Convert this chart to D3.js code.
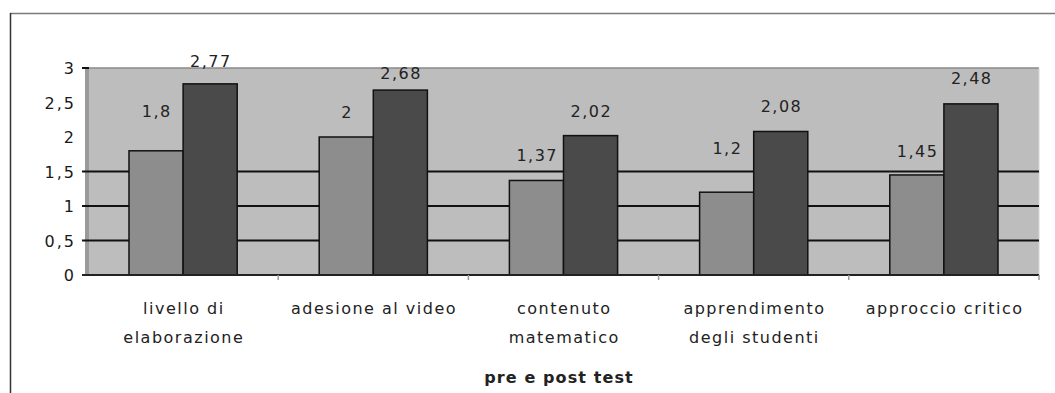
<!DOCTYPE html>
<html>
<head>
<meta charset="utf-8">
<script src="https://cdn.jsdelivr.net/npm/d3@7"></script>
<style>
  html, body { margin: 0; padding: 0; background: #fff; }
  svg { display: block; font-family: "DejaVu Sans", Arial, sans-serif; }
</style>
</head>
<body>
<svg id="chart" width="1055" height="393"></svg>
<script>
// Category labels (line breaks as shown under the axis)
const categories = [
  ["livello di", "elaborazione"],
  ["adesione al video"],
  ["contenuto", "matematico"],
  ["apprendimento", "degli studenti"],
  ["approccio critico"]
];
const seriesNames = ["pre", "post"];
const preValues  = [1.8, 2, 1.37, 1.2, 1.45];
const postValues = [2.77, 2.68, 2.02, 2.08, 2.48];
const yTicks = [0, 0.5, 1, 1.5, 2, 2.5, 3];
const gridValues = [0.5, 1, 1.5];
const axisTitle = "pre e post test";

// Label placement: pixels above each bar top [pre, post]
const labelLift = [[34, 17], [19, 11], [19, 19], [38, 19], [18, 20]];

const fmt = v => String(v).replace(".", ",");

const svg = d3.select("#chart");
const plot = { left: 88, right: 1039, top: 68, bottom: 275 };

// outer frame (top and left edges)
svg.append("line").attr("x1", 10).attr("x2", 1055).attr("y1", 13.5).attr("y2", 13.5)
  .attr("stroke", "#7a7a7a").attr("stroke-width", 1.5);
svg.append("line").attr("x1", 10.5).attr("x2", 10.5).attr("y1", 13).attr("y2", 393)
  .attr("stroke", "#333").attr("stroke-width", 1.5);

const keys = categories.map((c, i) => i);
const x0 = d3.scaleBand().domain(keys).range([plot.left, plot.right]).padding(0);
const x1 = d3.scaleBand().domain(seriesNames).range([41, x0.bandwidth() - 41]).padding(0);
const y = d3.scaleLinear().domain([0, 3]).range([plot.bottom, plot.top]);

// plot area background
svg.append("rect")
  .attr("x", plot.left).attr("y", plot.top)
  .attr("width", plot.right - plot.left).attr("height", plot.bottom - plot.top)
  .attr("fill", "#bdbdbd");
svg.append("line").attr("x1", plot.left).attr("x2", plot.right)
  .attr("y1", plot.top).attr("y2", plot.top)
  .attr("stroke", "#8a8a8a").attr("stroke-width", 1.5);
svg.append("line").attr("x1", plot.right).attr("x2", plot.right)
  .attr("y1", plot.top).attr("y2", plot.bottom)
  .attr("stroke", "#d4d4d4").attr("stroke-width", 1);
// left wall
svg.append("rect").attr("x", 85).attr("y", plot.top).attr("width", 4)
  .attr("height", plot.bottom - plot.top).attr("fill", "#9a9a9a");

// gridlines (with tick stubs left of the wall)
svg.append("g").selectAll("line").data(gridValues).join("line")
  .attr("x1", 82).attr("x2", plot.right)
  .attr("y1", d => y(d)).attr("y2", d => y(d))
  .attr("stroke", "#111").attr("stroke-width", 2);

// y axis labels
const yAxis = d3.axisLeft(y).tickValues(yTicks).tickFormat(fmt).tickSize(0).tickPadding(0);
const gy = svg.append("g").attr("transform", `translate(${plot.left},0)`).call(yAxis);
gy.select(".domain").remove();
gy.selectAll("text")
  .attr("x", -12)
  .attr("dy", "0.36em")
  .attr("font-size", 16)
  .attr("letter-spacing", 2)
  .attr("font-family", "DejaVu Sans, Arial, sans-serif")
  .attr("fill", "#1a1a1a");
// tick stubs at 0 and 3
svg.append("g").selectAll("line").data([0, 3]).join("line")
  .attr("x1", 82).attr("x2", 89)
  .attr("y1", d => y(d)).attr("y2", d => y(d))
  .attr("stroke", "#111").attr("stroke-width", 2);

// bars
const groups = svg.append("g").selectAll("g").data(keys).join("g")
  .attr("transform", i => `translate(${x0(i)},0)`);
const barData = i => [
  { s: "pre", v: preValues[i], lift: labelLift[i][0] },
  { s: "post", v: postValues[i], lift: labelLift[i][1] }
];
groups.selectAll("rect").data(barData).join("rect")
  .attr("x", d => x1(d.s))
  .attr("width", x1.bandwidth())
  .attr("y", d => y(d.v))
  .attr("height", d => y(0) - y(d.v))
  .attr("fill", d => d.s === "pre" ? "#8d8d8d" : "#4a4a4a")
  .attr("stroke", "#111").attr("stroke-width", 1.5);

// value labels
groups.selectAll("text").data(barData).join("text")
  .attr("x", d => x1(d.s) + x1.bandwidth() / 2 + 0.75)
  .attr("y", d => y(d.v) - d.lift)
  .attr("text-anchor", "middle")
  .attr("font-size", 16)
  .attr("letter-spacing", 1.5)
  .attr("fill", "#222")
  .text(d => fmt(d.v));

// x axis line and category ticks
svg.append("line").attr("x1", 82).attr("x2", plot.right)
  .attr("y1", plot.bottom).attr("y2", plot.bottom)
  .attr("stroke", "#222").attr("stroke-width", 2);
svg.append("g").selectAll("line").data(keys.slice(1).concat([keys.length])).join("line")
  .attr("x1", i => plot.left + i * x0.step()).attr("x2", i => plot.left + i * x0.step())
  .attr("y1", plot.bottom).attr("y2", plot.bottom + 5)
  .attr("stroke", "#999").attr("stroke-width", 1.5);

// category labels
const cat = svg.append("g").selectAll("text").data(keys).join("text")
  .attr("x", i => x0(i) + x0.bandwidth() / 2 + 0.75)
  .attr("y", 314)
  .attr("text-anchor", "middle")
  .attr("font-size", 16)
  .attr("letter-spacing", 1.5)
  .attr("fill", "#222");
cat.selectAll("tspan").data(i => categories[i]).join("tspan")
  .attr("x", function () { return d3.select(this.parentNode).attr("x"); })
  .attr("dy", (d, j) => j === 0 ? 0 : 29)
  .text(d => d);

// axis title
svg.append("text")
  .attr("x", 559).attr("y", 383)
  .attr("text-anchor", "middle")
  .attr("font-size", 16)
  .attr("font-weight", "bold")
  .attr("letter-spacing", 1.1)
  .attr("fill", "#222")
  .text(axisTitle);
</script>
</body>
</html>
